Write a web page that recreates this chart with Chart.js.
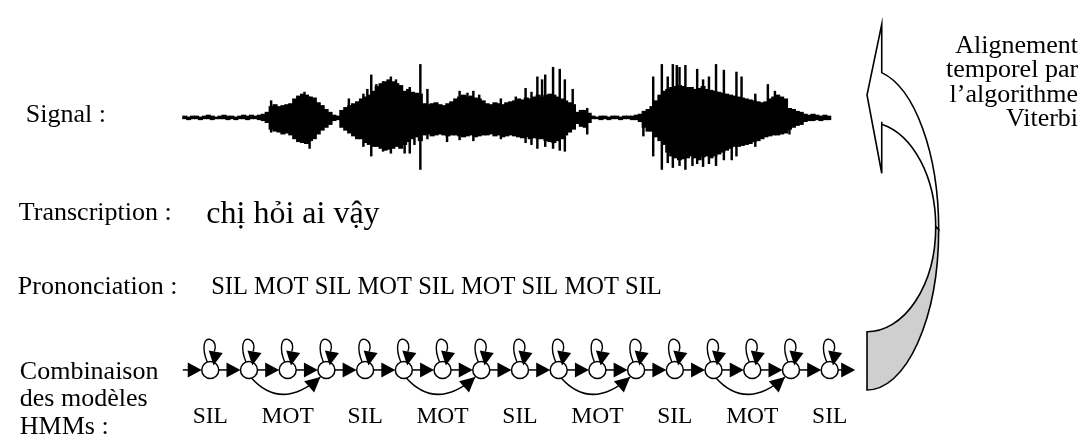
<!DOCTYPE html>
<html lang="fr">
<head>
<meta charset="utf-8">
<title>Alignement temporel par Viterbi</title>
<script src="https://cdn.jsdelivr.net/npm/chart.js@4.4.1/dist/chart.umd.min.js"></script>
<style>
  html, body { margin: 0; padding: 0; background: #fff; }
  canvas { display: block; }
</style>
</head>
<body>
<canvas id="schema" width="1092" height="442"></canvas>
<script>
// textes de la figure
const rowLabels = ['Signal :', 'Transcription :', 'Prononciation :', ['Combinaison', 'des modèles', 'HMMs :']];
const transcription = 'chị hỏi ai vậy';
const models = ['SIL', 'MOT', 'SIL', 'MOT', 'SIL', 'MOT', 'SIL', 'MOT', 'SIL'];
const statesPerModel = { SIL: 1, MOT: 3 };
const viterbiLabel = ['Alignement', 'temporel par', 'l’algorithme', 'Viterbi'];

// enveloppe du signal, trames de 10 ms (amplitude vers le haut / vers le bas)
const waveTop = [2,1,2,2,1,2,3,2,1,2,3,2,2,1,2,3,2,3,2,3, 4,6, 12,14, 12,13,14,15,
  20,23,25,24,22,21, 16,13,9,6, 3,2, 8,11,13,15,17, 20,22,24,28, 33,36,38,40,38,36,34,
  28,30,27,26,25, 15,14,15,16,14,13,15,17, 20,22,24,22,23,21,20,18, 15,14,16,15,14,16,17,
  18,20,19,21,20,22,24, 22,24,25,24,22,20,18,16,14, 6,8,8,5, 2,1,2,2,1,2,2,1,2,2,2,3,
  4,7,9, 12,18,24,28, 30,32,33,34,33,32, 32,30,31,33,30,29,28,27, 26,25,24,23,22,21,20,19,
  18,17,16,17, 20,22,24,22,20, 10,9,7,6, 4,3,4,3,2,3,2];
const waveBottom = [1,2,1,1,2,1,1,2,1,1,1,2,1,2,1,1,2,1,1,2, 3,5, 12,14, 15,17,16,18,
  22,25,26,27,24,22, 17,13,10,7, 3,2, 10,13,16,19,22, 22,26,28,30, 30,32,34,33,32,30,32,
  28,25,22,20,24, 18,17,19,18,17,18,19,18, 18,19,20,19,18,20,19,18, 18,17,19,18,20,19,18,
  19,20,21,20,22,21,22, 22,24,25,26,24,22,18,15,12, 6,9,10,5, 1,1,2,1,2,1,1,2,1,1,2,2,
  4,10,14, 14,20,24,28, 36,40,42,44,43,42, 40,42,44,41,40,42,40,38, 36,34,32,30,30,29,28,27,
  25,24,22,20, 19,18,18,17,16, 12,10,8,7, 4,3,3,2,3,2,2];

// pics isolés : instant (ms), amplitude haut, amplitude bas
const spikeTimes = [225,310,323,423,460,470,480,493,510,530,543,565,578,590,605,623,673,705,725,740,
  755,810,848,873,888,903,915,923,943,960,973,993,1030,1173,1198,1220,1235,1248,1258,1265,
  1280,1298,1310,1325,1340,1358,1378,1398,1410,1423,1458,1490,1508,1545];
const spikeTop = [18,27,22,20,25,30,45,35,38,43,40,0,32,0,56,30,0,28,26,28,
  24,20,22,31,27,43,40,45,53,51,40,30,10,0,43,56,43,56,55,53,
  55,0,51,40,43,56,50,0,48,43,25,35,28,0];
const spikeBottom = [15,20,32,0,30,26,40,0,35,37,0,37,37,28,54,22,25,23,0,24,
  0,22,0,26,28,32,0,30,32,34,35,0,17,19,40,54,47,52,0,50,
  54,50,48,51,48,50,44,44,40,0,30,0,0,17];

// mise en page (pixels de la figure)
const W = 1092, H = 442;
const wave = { left: 176, baseline: 113, pxPerMs: 0.4, frameMs: 10 };
const hmm = { firstX: 204, lastX: 835, row: 377, radius: 8.5, startX: 176, labelY: 433 };
const rows = { signal: 117, transcription: 220, prononciation: 297, combinaison: [386, 415, 444] };
const viterbiRows = [45, 70.5, 96, 121.5];
const bigArrow = { x: 873, notchX: 888, tip: 15, headY: 89, headBottom: 171, outerTop: 62, innerTop: 117,
  outerCy: 230, outerRx: 73, outerRy: 168, innerCy: 227, innerRx: 70, innerRy: 110 };

const serif = '"Liberation Serif", "Times New Roman", serif';

// états HMM construits depuis la liste des modèles
const states = [];
const skips = [];
models.forEach((m, mi) => {
  const first = states.length;
  for (let s = 0; s < statesPerModel[m]; s++) states.push({ model: mi });
  if (statesPerModel[m] === 3) skips.push([first, first + 2]);
});
const stateStep = (hmm.lastX - hmm.firstX) / (states.length - 1);

const frameData = waveTop.map((v, k) => ({ x: k * wave.frameMs + wave.frameMs / 2, y: [-waveBottom[k], v] }));
const spikeData = spikeTimes.map((t, i) => ({ x: t, y: [-spikeBottom[i], spikeTop[i]] }));

function head(c, x, y, ang, len, half) {
  const bx = x - len * Math.cos(ang), by = y - len * Math.sin(ang);
  c.beginPath();
  c.moveTo(x, y);
  c.lineTo(bx + half * Math.sin(ang), by - half * Math.cos(ang));
  c.lineTo(bx - half * Math.sin(ang), by + half * Math.cos(ang));
  c.closePath();
  c.fill();
}

const diagram = {
  id: 'diagram',
  beforeDatasetsDraw(chart) {
    const c = chart.ctx;
    const X = v => chart.scales.px.getPixelForValue(v);
    const Y = v => chart.scales.py.getPixelForValue(v);
    const S = i => chart.scales.xs.getPixelForValue(i);
    const r = hmm.radius, cy = Y(hmm.row);
    c.save();
    c.strokeStyle = '#000';
    c.fillStyle = '#000';
    c.lineWidth = 1.5;
    // transitions vers l'état suivant
    const pts = [X(hmm.startX)];
    states.forEach((s, i) => pts.push(S(i)));
    for (let i = 0; i < pts.length; i++) {
      const from = i === 0 ? pts[0] : pts[i] + r;
      const to = i === pts.length - 1 ? pts[i] + r + 17 : pts[i + 1] - r;
      c.beginPath();
      c.moveTo(from, cy);
      c.lineTo(to - 6, cy);
      c.stroke();
      head(c, to, cy, 0, 14, 7.5);
    }
    // sauts d'état dans les modèles MOT
    skips.forEach(([a, b]) => {
      const x1 = S(a), x2 = S(b);
      const ex = x2 - 6, ey = cy + 7;
      c.beginPath();
      c.moveTo(x1 + 2, cy + r - 1);
      c.bezierCurveTo(x1 + 22, cy + 30, x2 - 32, cy + 30, ex, ey);
      c.stroke();
      head(c, ex, ey, Math.atan2(ey - (cy + 30), ex - (x2 - 32)), 15, 7.5);
    });

    // grande flèche courbe
    const A = bigArrow;
    const ax = X(A.x), nx = X(A.notchX);
    const oCy = Y(A.outerCy), iCy = Y(A.innerCy);
    const oRx = X(A.x + A.outerRx) - ax, oRy = Y(A.outerCy + A.outerRy) - oCy;
    const iRx = X(A.x + A.innerRx) - ax, iRy = Y(A.innerCy + A.innerRy) - iCy;
    const oStart = -Math.acos((nx - ax) / oRx), iStart = -Math.acos((nx - ax) / iRx);
    c.lineWidth = 1.6;
    c.beginPath();
    c.moveTo(nx, Y(A.outerTop));
    c.lineTo(nx, Y(A.tip));
    c.lineTo(ax, Y(A.headY));
    c.lineTo(nx, Y(A.headBottom));
    c.lineTo(nx, Y(A.innerTop));
    c.ellipse(ax, iCy, iRx, iRy, 0, iStart, 0, false);
    c.ellipse(ax, oCy, oRx, oRy, 0, 0, oStart, true);
    c.closePath();
    c.fillStyle = '#fff';
    c.fill();
    c.stroke();
    c.beginPath();
    c.ellipse(ax, iCy, iRx, iRy, 0, 0, Math.PI / 2, false);
    c.lineTo(ax, oCy + oRy);
    c.ellipse(ax, oCy, oRx, oRy, 0, Math.PI / 2, 0, true);
    c.closePath();
    c.fillStyle = '#cfcfcf';
    c.fill();
    c.stroke();
    c.restore();
  },
  afterDatasetsDraw(chart) {
    const c = chart.ctx;
    const X = v => chart.scales.px.getPixelForValue(v);
    const Y = v => chart.scales.py.getPixelForValue(v);
    const S = i => chart.scales.xs.getPixelForValue(i);
    const r = hmm.radius, cy = Y(hmm.row);
    c.save();
    c.strokeStyle = '#000';
    c.fillStyle = '#000';
    c.lineWidth = 1.4;
    // boucles sur chaque état
    states.forEach((s, i) => {
      const cx = S(i), top = cy - r;
      c.beginPath();
      c.moveTo(cx - 3, top + 0.5);
      c.bezierCurveTo(cx - 9, top - 14, cx - 6, top - 24, cx, top - 22);
      c.bezierCurveTo(cx + 5, top - 20, cx + 6, top - 15, cx + 4, top - 10);
      c.stroke();
      c.beginPath();
      c.moveTo(cx - 1.5, top - 11);
      c.lineTo(cx + 12.5, top - 8.5);
      c.lineTo(cx + 3.3, top + 4);
      c.closePath();
      c.fill();
    });

    // textes
    c.textBaseline = 'alphabetic';
    c.textAlign = 'left';
    c.font = '26px ' + serif;
    c.fillText(rowLabels[0], X(16), Y(rows.signal));
    c.fillText(rowLabels[1], X(9), Y(rows.transcription));
    c.fillText(rowLabels[2], X(8), Y(rows.prononciation));
    rowLabels[3].forEach((t, k) => c.fillText(t, X(10), Y(rows.combinaison[k])));

    c.font = '32px ' + serif;
    c.fillText(transcription, X(200), Y(rows.transcription + 3));

    c.font = '24.5px ' + serif;
    c.fillText(models.join(' '), X(205), Y(rows.prononciation));

    c.textAlign = 'right';
    c.font = '26px ' + serif;
    viterbiLabel.forEach((t, k) => c.fillText(t, X(1088), Y(viterbiRows[k])));

    // étiquettes des modèles sous la chaîne
    c.textAlign = 'center';
    c.font = '23.5px ' + serif;
    let idx = 0;
    models.forEach(m => {
      const n = statesPerModel[m];
      const mid = idx + (n - 1) / 2;
      c.fillText(m, S(mid), Y(hmm.labelY));
      idx += n;
    });
    c.restore();
  }
};

const hidden = { display: false, offset: false };
const ctx = document.getElementById('schema').getContext('2d');
const schema = new Chart(ctx, {
  type: 'bar',
  data: {
    datasets: [
      {
        type: 'bar', label: 'Signal', data: frameData, xAxisID: 'xw', yAxisID: 'yw',
        backgroundColor: '#000', borderWidth: 0, barThickness: 4.4, grouped: false, order: 3
      },
      {
        type: 'bar', label: 'Pics', data: spikeData, xAxisID: 'xw', yAxisID: 'yw',
        backgroundColor: '#000', borderWidth: 0, barThickness: 1.8, grouped: false, order: 2
      },
      {
        type: 'scatter', label: 'États', data: states.map((s, i) => ({ x: i, y: hmm.row })),
        xAxisID: 'xs', yAxisID: 'py', pointRadius: hmm.radius, pointHoverRadius: hmm.radius,
        pointBackgroundColor: '#fff', pointBorderColor: '#000', pointBorderWidth: 1.5, order: 1
      }
    ]
  },
  options: {
    responsive: false,
    animation: false,
    events: [],
    layout: { padding: 0 },
    plugins: { legend: { display: false }, tooltip: { enabled: false } },
    scales: {
      xw: { ...hidden, type: 'linear', axis: 'x', min: -wave.left / wave.pxPerMs, max: (W - wave.left) / wave.pxPerMs },
      yw: { ...hidden, type: 'linear', axis: 'y', min: -(H - wave.baseline), max: wave.baseline },
      xs: { ...hidden, type: 'linear', axis: 'x', min: -hmm.firstX / stateStep, max: (W - hmm.firstX) / stateStep },
      px: { ...hidden, type: 'linear', axis: 'x', min: 0, max: W },
      py: { ...hidden, type: 'linear', axis: 'y', min: 0, max: H, reverse: true }
    }
  },
  plugins: [diagram]
});
</script>
</body>
</html>
